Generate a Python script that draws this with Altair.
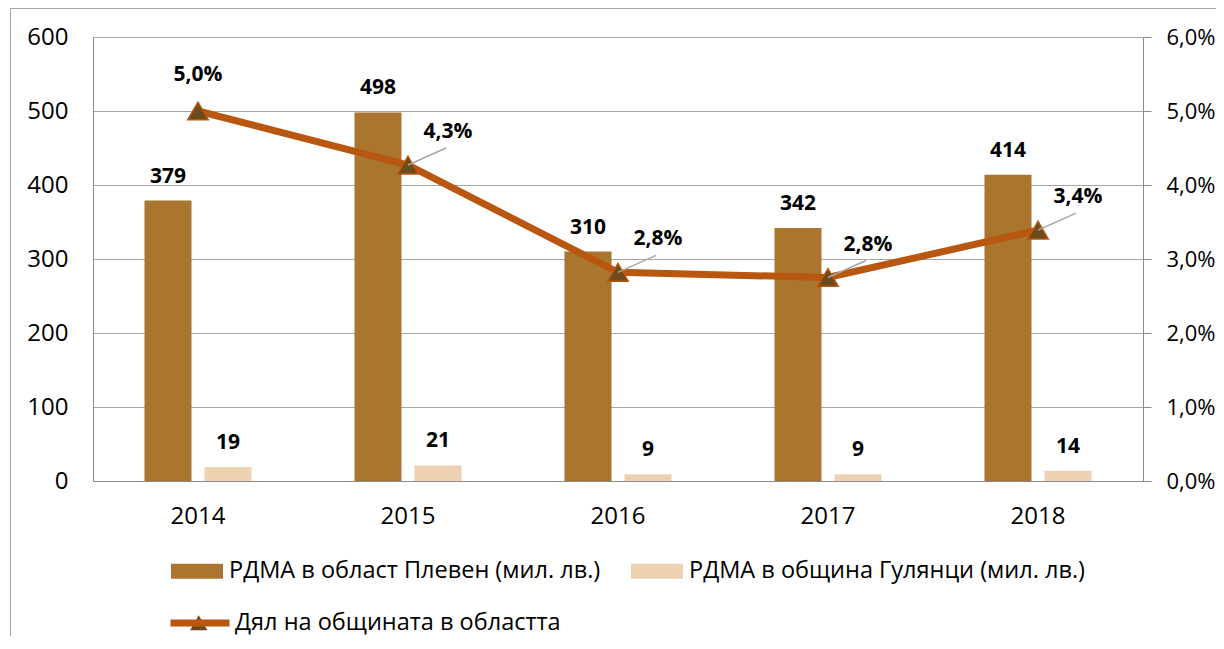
import altair as alt
import pandas as pd

years = ["2014", "2015", "2016", "2017", "2018"]
pleven = [379, 498, 310, 342, 414]
gulyantsi = [19, 21, 9, 9, 14]
share = [0.0500, 0.0427, 0.0282, 0.0275, 0.0339]
share_labels = ["5,0%", "4,3%", "2,8%", "2,8%", "3,4%"]
s1 = "РДМА в област Плевен (мил. лв.)"
s2 = "РДМА в община Гулянци (мил. лв.)"
s3 = "Дял на общината в областта"
left_ticks = [0, 100, 200, 300, 400, 500, 600]
right_ticks = [0, 0.01, 0.02, 0.03, 0.04, 0.05, 0.06]

DARK = "#A9752F"
LIGHT = "#EDD1B0"
ORANGE = "#B9560F"
TRI = "#6B4A1C"
GRID = "#A6A6A6"
AXIS = "#8C8C8C"
FONT = "Open Sans"
AX_FS = 24
LEG_FS = 23.5

bars_df = pd.DataFrame({
    "year": years * 2,
    "series": [s1] * 5 + [s2] * 5,
    "value": pleven + gulyantsi,
    "label": [str(v) for v in pleven + gulyantsi],
})
line_df = pd.DataFrame({
    "year": years,
    "share": share,
    "label": share_labels,
    "lname": [s3] * 5,
    "tri": [" "] * 5,
})

xenc = alt.X("year:N", scale=alt.Scale(paddingInner=0, paddingOuter=0),
             axis=alt.Axis(title=None, labelAngle=0, ticks=False, domainColor=AXIS,
                           labelFontSize=AX_FS, labelPadding=23, labelColor="black", labelFont=FONT))
xoff = alt.XOffset("series:N", scale=alt.Scale(domain=[s1, s2], paddingInner=0.2167, paddingOuter=0.858))
yL = alt.Y("value:Q", scale=alt.Scale(domain=[0, 600]),
           axis=alt.Axis(title=None, values=left_ticks, ticks=False, tickSize=0, grid=True,
                         gridColor=GRID, domainColor=AXIS, labelPadding=25, labelFontSize=AX_FS,
                         labelColor="black", labelFont=FONT))
yR = alt.Y("share:Q", scale=alt.Scale(domain=[0, 0.06]),
           axis=alt.Axis(title=None, orient="right", values=right_ticks, grid=False, tickSize=8,
                         tickColor=AXIS, domainColor=AXIS, labelPadding=15, labelFontSize=22,
                         labelColor="black", labelFont=FONT,
                         labelExpr="replace(format(datum.value, '.1%'), '.', ',')"))

bars = alt.Chart(bars_df).mark_bar().encode(
    x=xenc, xOffset=xoff, y=yL,
    color=alt.Color("series:N", scale=alt.Scale(domain=[s1, s2], range=[DARK, LIGHT]),
                    legend=alt.Legend(title=None, orient="none", legendX=78, legendY=508,
                                      direction="horizontal", columns=2, columnPadding=30,
                                      symbolType="M-1,-0.29H1V0.29H-1Z", symbolSize=2704,
                                      symbolStrokeWidth=0, labelOffset=6, labelFontSize=LEG_FS,
                                      labelFont=FONT, labelColor="black", labelLimit=600)),
)
bar_text = alt.Chart(bars_df).mark_text(
    fontWeight="bold", fontSize=21, dy=-18, baseline="alphabetic", color="black", font=FONT
).encode(x=xenc, xOffset=xoff, y=yL, text="label:N")

line = alt.Chart(line_df).mark_line(strokeWidth=7).encode(
    x=xenc, y=yR,
    color=alt.Color("lname:N", scale=alt.Scale(range=[ORANGE]),
                    legend=alt.Legend(title=None, orient="none", legendX=74, legendY=553,
                                      symbolType="M-1,0H1", symbolSize=3481, symbolStrokeWidth=7,
                                      symbolStrokeColor=ORANGE, labelOffset=2, labelFontSize=LEG_FS,
                                      labelFont=FONT, labelColor="black", labelLimit=600)),
)
points = alt.Chart(line_df).mark_point(
    shape="triangle-up", filled=True, size=420, fill=TRI, stroke=ORANGE, strokeWidth=1.5, opacity=1
).encode(
    x=xenc, y=yR,
    shape=alt.Shape("tri:N", scale=alt.Scale(range=["triangle-up"]),
                    legend=alt.Legend(title=None, orient="none", legendX=94, legendY=574,
                                      symbolSize=300, symbolFillColor=TRI, symbolStrokeColor=ORANGE,
                                      symbolStrokeWidth=1.5, labelFontSize=LEG_FS, labelFont=FONT)),
)
leaders = alt.Chart(line_df).transform_filter("datum.year != '2014'").mark_rule(
    color=GRID, strokeWidth=1.5, x2Offset=38, y2Offset=-17
).encode(
    x=alt.X("year:N", bandPosition=0.5, scale=alt.Scale(paddingInner=0, paddingOuter=0)),
    x2=alt.X2("year:N", bandPosition=0.5),
    y=yR, y2=alt.Y2("share:Q"),
)
lab_top = alt.Chart(line_df).transform_filter("datum.year == '2014'").mark_text(
    fontWeight="bold", fontSize=21, dy=-30, baseline="alphabetic", color="black", font=FONT
).encode(x=xenc, y=yR, text="label:N")
lab_side = alt.Chart(line_df).transform_filter("datum.year != '2014'").mark_text(
    fontWeight="bold", fontSize=21, dx=40, dy=-27, baseline="alphabetic", color="black", font=FONT
).encode(x=xenc, y=yR, text="label:N")

frame_df = pd.DataFrame({"f": [0]})
frame_left = alt.Chart(frame_df).mark_rule(color=GRID, strokeWidth=1).encode(
    x=alt.value(-82.5), y=alt.value(-28.5), y2=alt.value(640))
frame_top = alt.Chart(frame_df).mark_rule(color=GRID, strokeWidth=1).encode(
    x=alt.value(-82.5), x2=alt.value(1130), y=alt.value(-28.5))

bar_layer = alt.layer(bars, bar_text)
line_layer = alt.layer(line, points, leaders, lab_top, lab_side)

chart = alt.layer(bar_layer, line_layer, frame_left, frame_top).resolve_scale(
    y="independent", color="independent"
).properties(
    width=1050, height=444,
    padding={"left": 85, "top": 29, "right": 73, "bottom": 155},
    autosize=alt.AutoSizeParams(type="none"),
).configure_view(stroke=AXIS).configure(font=FONT)

chart.save("out.html", embed_options={"renderer": "svg", "actions": False})
